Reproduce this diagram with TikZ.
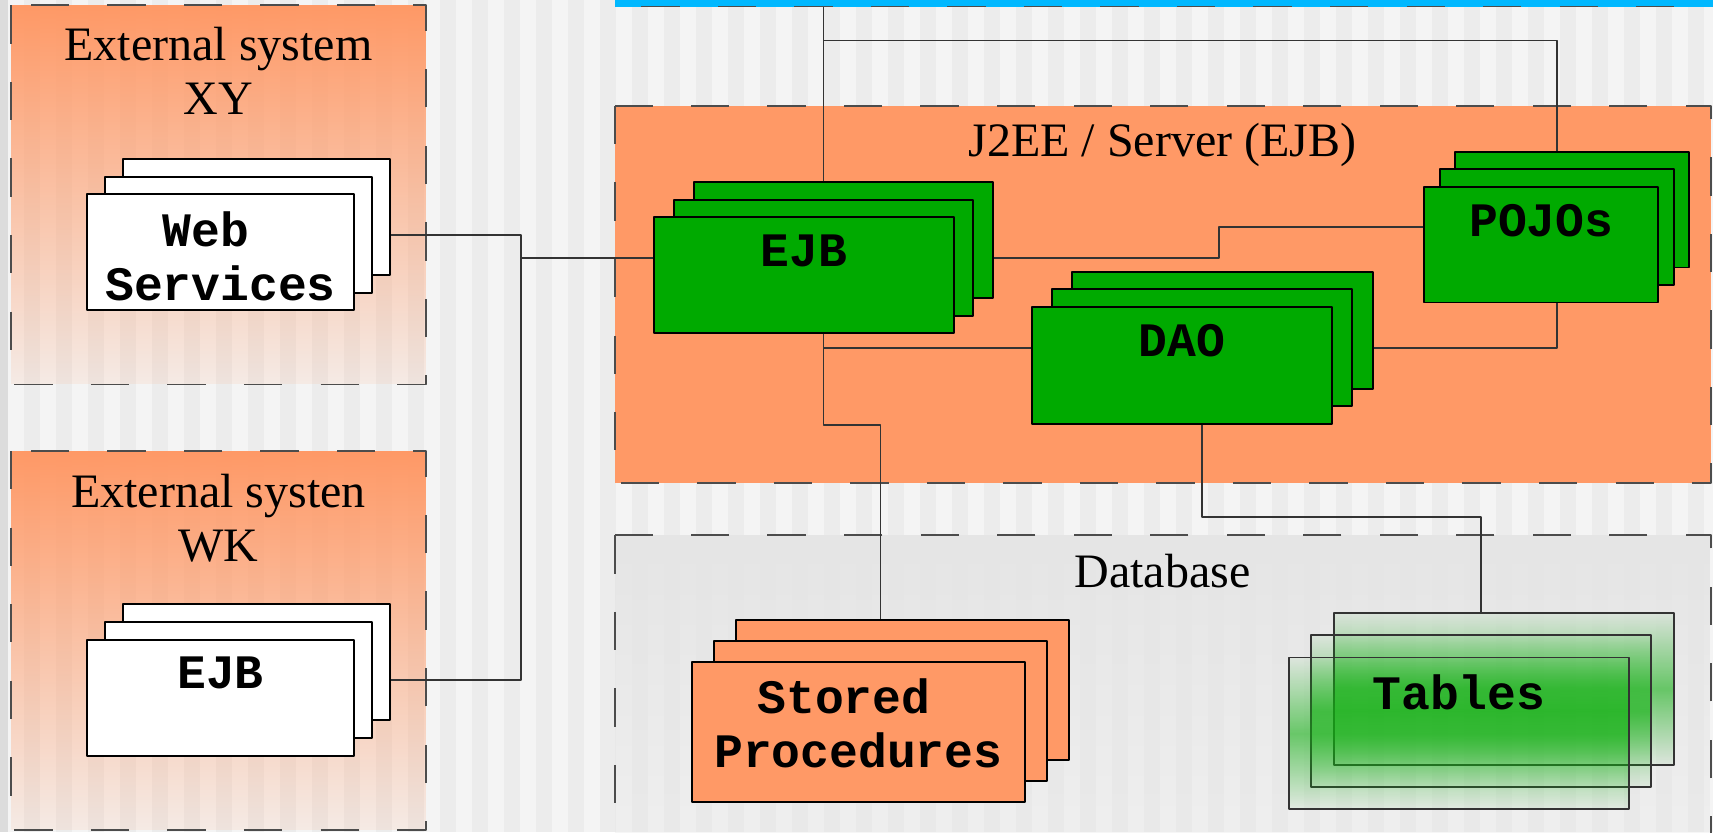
\documentclass[tikz,border=0pt]{standalone}
\usepackage{fontspec}
\setmainfont{Liberation Serif}
\newfontfamily\cardfont{Liberation Mono}
\usetikzlibrary{fadings}
\definecolor{sysorange}{HTML}{FF9966}
\definecolor{ejbgreen}{HTML}{00AA00}
\definecolor{tabgreen}{HTML}{12B012}
\definecolor{barblue}{HTML}{00B8FF}
\definecolor{stripelight}{HTML}{F4F4F4}
\definecolor{stripedark}{HTML}{ECECEC}
\definecolor{edgegrey}{HTML}{DCDCDC}
\definecolor{dbgrey}{HTML}{E5E5E5}
\tikzfading[name=fadedown, top color=transparent!0, bottom color=transparent!90]
\tikzfading[name=dbfade, top color=transparent!0, bottom color=transparent!75]
\tikzfading[name=midband, top color=transparent!95, bottom color=transparent!95, middle color=transparent!40]
\begin{document}
\begin{tikzpicture}[x=0.01cm,y=-0.01cm,line join=round,
	font=\fontsize{12.5}{14}\selectfont,
	groupline/.style={draw=black!70,line width=0.5pt,dash pattern=on 0.35cm off 0.35cm},
	card/.style={draw=black,line width=0.5pt,inner sep=0pt,anchor=north west},
	whitecard/.style={card,fill=white},
	ejbcard/.style={card,fill=ejbgreen},
	spcard/.style={card,fill=sysorange},
	tabcard/.style={card,draw=black!80,preaction={fill=tabgreen,path fading=midband}},
	cardtext/.style={font=\fontsize{12.5}{14}\selectfont\cardfont\bfseries,align=center,anchor=north,inner sep=0pt},
	grouptitle/.style={align=center,inner sep=0pt},
	wire/.style={draw=black!80,line width=0.45pt}]
	\useasboundingbox (0,0) rectangle (1568,762);
	\clip (0,0) rectangle (1568,762);
	\fill[stripelight] (0,0) rectangle (1568,762);
	\foreach \s in {0,...,53} \fill[stripedark] ({21.97+29.29*\s},0) rectangle ++(14.65,762);
	\fill[edgegrey] (0,0) rectangle (7.3,762);
	\path[preaction={fill=sysorange,path fading=fadedown},groupline] (10,5) rectangle (390,352);
	\path[preaction={fill=sysorange,path fading=fadedown},groupline] (10,413) rectangle (390,760);
	\path[fill=barblue,groupline] (563,-40) rectangle (1572,6);
	\path[fill=sysorange,groupline] (563,97) rectangle (1566,442);
	\path[preaction={fill=dbgrey,path fading=dbfade},groupline] (563,490) rectangle (1566,800);
	\node[grouptitle,anchor=north] (xytitle) at (200,24.3) {External system\\XY};
	\node[grouptitle,anchor=north] (wktitle) at (200,433.2) {External systen\\WK};
	\node[grouptitle,anchor=base] (eetitle) at (1064,143.4) {J2EE / Server (EJB)};
	\node[grouptitle,anchor=base] (dbtitle) at (1064,537.6) {Database};
	\def\cards#1#2#3#4#5#6#7#8{\foreach \k/\m in {3/2,2/1,1/0}
		\node[#1,minimum width={#5*0.01cm},minimum height={#6*0.01cm}] (#2\k) at ({#3+\m*#7},{#4-\m*#8}) {};}
	\cards{whitecard}{ws}{79}{177}{244}{106}{16.5}{16}
	\cards{whitecard}{ew}{79}{585}{244}{106}{16.5}{16.5}
	\cards{ejbcard}{ejb}{598}{198}{274}{106}{18}{16}
	\cards{ejbcard}{pojo}{1303}{170}{214}{106}{14}{16}
	\cards{ejbcard}{dao}{943.5}{280}{275}{107}{18.5}{16}
	\cards{spcard}{sp}{632.3}{605}{305}{128}{20.2}{19.2}
	\cards{tabcard}{tab}{1179}{601}{311}{139}{20.5}{20.5}
	\node[cardtext] (wstext) at ([yshift=-0.16cm]ws1.north) {Web\hphantom{x}\\Services};
	\node[cardtext] (ewtext) at ([yshift=-0.16cm]ew1.north) {EJB};
	\node[cardtext] (ejbtext) at ([yshift=-0.16cm]ejb1.north) {EJB};
	\node[cardtext] (pojotext) at ([yshift=-0.16cm]pojo1.north) {POJOs};
	\node[cardtext] (daotext) at ([yshift=-0.16cm]dao1.north) {DAO};
	\node[cardtext] (sptext) at ([yshift=-0.16cm]sp1.north) {Stored\hphantom{x}\\Procedures};
	\node[cardtext] (tabtext) at ([yshift=-0.16cm]tab1.north) {Tables};
	\coordinate (bus) at (477,0);
	\coordinate (barbottom) at (0,6);
	\coordinate (apptap) at (0,37);
	\coordinate (kink) at (1116,0);
	\coordinate (dbtap) at (0,473);
	\draw[wire] (ws2.east -| ws3.east) -| (bus |- ew2.east) -- (ew2.east -| ew3.east);
	\draw[wire] (bus |- ejb2.center) -- (ejb2.center -| ejb1.west);
	\draw[wire] (ejb2.center |- ejb3.north) -- (ejb2.center |- barbottom);
	\draw[wire] (ejb2.center |- apptap) -| (pojo2.center |- pojo3.north);
	\draw[wire] (ejb2.center -| ejb3.east) -| (kink |- pojo2.center) -- (pojo2.center -| pojo1.west);
	\draw[wire] (ejb2.center |- ejb1.south) |- (dao2.center -| dao1.west);
	\draw[wire] (ejb2.center |- dao2.center) |- (sp2.center |- dao1.south) -- (sp2.center |- sp3.north);
	\draw[wire] (dao2.center -| dao3.east) -| (pojo2.center |- pojo1.south);
	\draw[wire] (dao2.center |- dao1.south) |- (tab2.center |- dbtap) -- (tab2.center |- tab3.north);
\end{tikzpicture}
\end{document}
